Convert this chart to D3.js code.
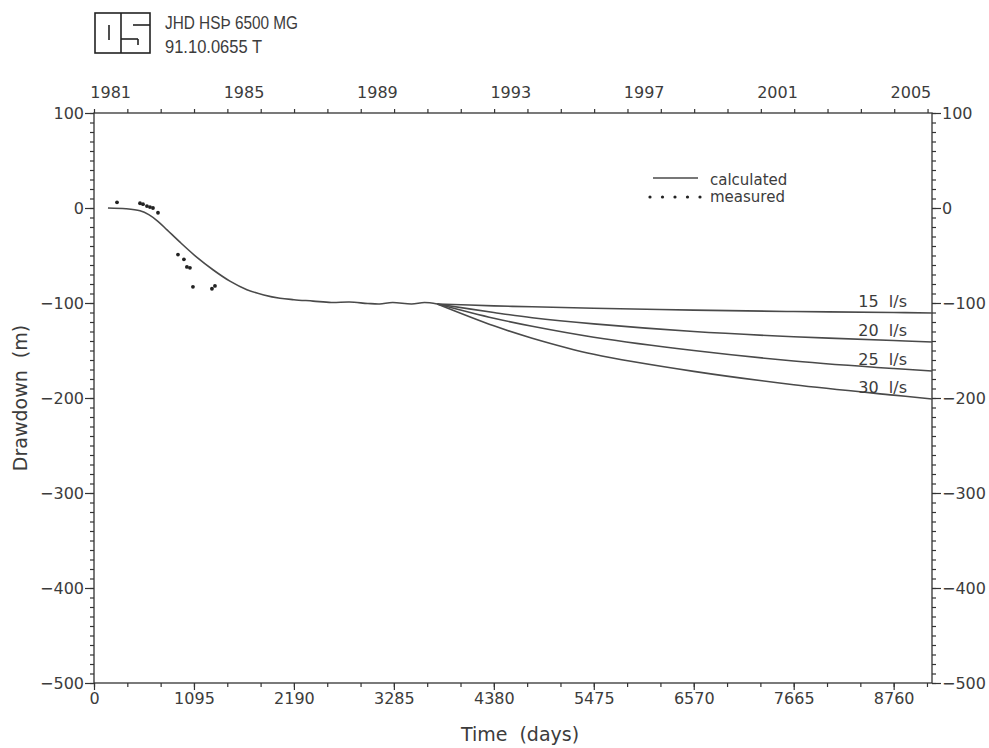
<!DOCTYPE html>
<html>
<head>
<meta charset="utf-8">
<script src="https://cdn.jsdelivr.net/npm/d3@7"></script>
<style>
  body { margin: 0; background: #fff; }
  svg text { font-family: "DejaVu Sans", sans-serif; fill: #3c3c3c; }
</style>
</head>
<body>
<div id="chart"></div>
<script>
// calculated drawdown history (days since 1 Jan 1981, metres)
var calcDays = [153, 350, 504, 600, 700, 800, 942, 1128, 1303, 1489, 1675, 1860, 2037, 2190, 2400, 2600, 2800, 3000, 3130, 3270, 3480, 3620, 3760];
var calcDrawdown = [0, -0.8, -3, -7, -14, -23, -36, -52, -65, -77, -86, -91.5, -95, -96.5, -98, -99.5, -99, -100.5, -101, -99.5, -101, -99.5, -101];

// measured points
var measDays = [252, 504, 537, 580, 613, 646, 701, 920, 985, 1018, 1051, 1084, 1292, 1325];
var measDrawdown = [6, 5, 4, 2, 1, 0, -5, -49, -54, -62, -63, -83, -85, -82];

// predictions for different production rates
var branchDays = [3760, 4380, 4800, 5475, 6570, 7665, 8760, 9180];
var q15 = [-101, -103, -104, -105.5, -107.5, -109, -110, -110.5];
var q20 = [-101, -110, -115.5, -122, -130, -135.5, -139.5, -141];
var q25 = [-101, -116, -124.5, -136, -150, -161, -169, -171.5];
var q30 = [-101, -124, -137, -154, -172, -186, -197, -201];
var rateLabels = ["15  l/s", "20  l/s", "25  l/s", "30  l/s"];

var dayTicks = [0, 1095, 2190, 3285, 4380, 5475, 6570, 7665, 8760];
var yearLabels = [1981, 1985, 1989, 1993, 1997, 2001, 2005];
var ddTicks = [-500, -400, -300, -200, -100, 0, 100];

var width = 989, height = 748;
var svg = d3.select("#chart").append("svg")
    .attr("width", width).attr("height", height);

var x = d3.scaleLinear().domain([0, 9180]).range([94, 932]);
var yr = d3.scaleLinear().domain([1981, 1981 + 9180 / 365.25]).range([94, 932]);
var y = d3.scaleLinear().domain([-500, 100]).range([683, 113]);

var ink = "#333";
var fmt = function(d) { return d < 0 ? "\u2212" + Math.abs(d) : d; };

function styleAxis(g) {
  g.select(".domain").remove();
  g.selectAll(".tick line").attr("stroke", ink).attr("stroke-width", 1.2);
  g.selectAll(".tick text").style("font-size", "16px").attr("fill", "#3c3c3c");
}

// left axis
svg.append("g").attr("transform", "translate(94,0)")
  .call(d3.axisLeft(y).tickValues(d3.range(-500, 101, 10)).tickSize(4).tickFormat(""))
  .call(styleAxis);
svg.append("g").attr("transform", "translate(94,0)")
  .call(d3.axisLeft(y).tickValues(ddTicks).tickSize(9).tickPadding(1).tickFormat(fmt))
  .call(styleAxis);

// right axis
svg.append("g").attr("transform", "translate(932,0)")
  .call(d3.axisRight(y).tickValues(d3.range(-500, 101, 10)).tickSize(4).tickFormat(""))
  .call(styleAxis);
svg.append("g").attr("transform", "translate(932,0)")
  .call(d3.axisRight(y).tickValues(ddTicks).tickSize(9).tickPadding(1).tickFormat(fmt))
  .call(styleAxis);

// bottom axis (days)
svg.append("g").attr("transform", "translate(0,683)")
  .call(d3.axisBottom(x).tickValues(d3.range(0, 9180, 365)).tickSize(4).tickFormat(""))
  .call(styleAxis);
svg.append("g").attr("transform", "translate(0,683)")
  .call(d3.axisBottom(x).tickValues(dayTicks).tickSize(7).tickPadding(3).tickFormat(d3.format("d")))
  .call(styleAxis);

// top axis (years)
svg.append("g").attr("transform", "translate(0,113)")
  .call(d3.axisTop(yr).tickValues(d3.range(1981, 2007)).tickSize(4).tickFormat(""))
  .call(styleAxis);
svg.append("g").selectAll("text").data(yearLabels).enter().append("text")
  .attr("x", function(d) { return yr(d + 0.5); })
  .attr("y", 98)
  .attr("text-anchor", "middle")
  .style("font-size", "16px")
  .text(function(d) { return d; });

// frame
svg.append("rect")
  .attr("x", x(0)).attr("y", y(100))
  .attr("width", x(9180) - x(0)).attr("height", y(-500) - y(100))
  .attr("fill", "none").attr("stroke", ink).attr("stroke-width", 1.3);

// axis titles
svg.append("text")
  .attr("x", 520).attr("y", 741)
  .attr("text-anchor", "middle")
  .attr("xml:space", "preserve")
  .style("font-size", "19px")
  .text("Time  (days)");
svg.append("text")
  .attr("transform", "translate(27,398) rotate(-90)")
  .attr("text-anchor", "middle")
  .attr("xml:space", "preserve")
  .style("font-size", "19px")
  .text("Drawdown  (m)");

// curves
var line = d3.line()
  .x(function(d) { return x(d[0]); })
  .y(function(d) { return y(d[1]); })
  .curve(d3.curveCatmullRom.alpha(0.5));

svg.append("path")
  .datum(d3.zip(calcDays, calcDrawdown))
  .attr("d", line)
  .attr("fill", "none").attr("stroke", "#4a4a4a").attr("stroke-width", 1.6);

var branches = [q15, q20, q25, q30];
svg.append("g").selectAll("path").data(branches).enter().append("path")
  .attr("d", function(d) { return line(d3.zip(branchDays, d)); })
  .attr("fill", "none").attr("stroke", "#4a4a4a").attr("stroke-width", 1.6);

svg.append("g").selectAll("text").data(branches).enter().append("text")
  .attr("x", 907)
  .attr("y", function(d) { return y(d[d.length - 1]) - 6; })
  .attr("text-anchor", "end")
  .attr("xml:space", "preserve")
  .style("font-size", "16px")
  .text(function(d, i) { return rateLabels[i]; });

// measured points
svg.append("g").selectAll("circle").data(d3.zip(measDays, measDrawdown)).enter().append("circle")
  .attr("cx", function(d) { return x(d[0]); })
  .attr("cy", function(d) { return y(d[1]); })
  .attr("r", 1.9)
  .attr("fill", "#222");

// legend
svg.append("line")
  .attr("x1", 653).attr("x2", 698).attr("y1", 178).attr("y2", 178)
  .attr("stroke", "#4a4a4a").attr("stroke-width", 1.6);
svg.append("text").attr("x", 710).attr("y", 185).style("font-size", "15px").text("calculated");
svg.append("g").selectAll("circle").data(d3.range(5)).enter().append("circle")
  .attr("cx", function(d) { return 650 + d * 12.5; })
  .attr("cy", 197).attr("r", 1.6).attr("fill", "#222");
svg.append("text").attr("x", 710).attr("y", 202).style("font-size", "15px").text("measured");

// header logo + ids
var logo = svg.append("g").attr("fill", "none").attr("stroke", "#222").attr("stroke-width", 1.6);
logo.append("rect").attr("x", 95).attr("y", 13).attr("width", 55).attr("height", 40);
logo.append("line").attr("x1", 121).attr("x2", 121).attr("y1", 13).attr("y2", 53);
logo.append("line").attr("x1", 109).attr("x2", 109).attr("y1", 25).attr("y2", 40);
logo.append("line").attr("x1", 133).attr("x2", 150).attr("y1", 25).attr("y2", 25);
logo.append("line").attr("x1", 121).attr("x2", 138).attr("y1", 39).attr("y2", 39);
logo.append("line").attr("x1", 138).attr("x2", 138).attr("y1", 39).attr("y2", 45);

svg.append("text").attr("x", 165).attr("y", 29)
  .style("font-family", "'Liberation Sans', Arial, sans-serif").style("font-size", "18px")
  .attr("textLength", 133).attr("lengthAdjust", "spacingAndGlyphs")
  .attr("fill", "#222")
  .text("JHD HSÞ 6500 MG");
svg.append("text").attr("x", 165).attr("y", 53)
  .style("font-family", "'Liberation Sans', Arial, sans-serif").style("font-size", "18px")
  .attr("textLength", 97).attr("lengthAdjust", "spacingAndGlyphs")
  .attr("fill", "#222")
  .text("91.10.0655 T");
</script>
</body>
</html>
